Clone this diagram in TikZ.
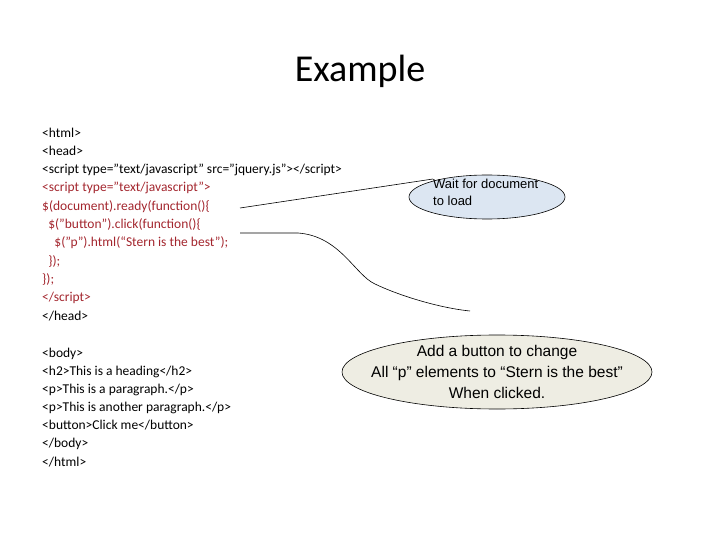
\documentclass[tikz,border=0pt]{standalone}
\usepackage{fontspec}
\setmainfont{Carlito}
\newfontfamily\arialf{Liberation Sans}
\usetikzlibrary{shapes.geometric}
\definecolor{codered}{HTML}{A3262E}
\definecolor{bluefill}{HTML}{DCE6F2}
\definecolor{creamfill}{HTML}{EEEDE3}
\tikzset{code/.style={anchor=base west,inner sep=0pt,font=\fontsize{13.5}{16}\selectfont},
 red/.style={code,text=codered},
 callout/.style={ellipse,draw=black,line width=0.6pt,inner sep=0pt}}
\begin{document}
\begin{tikzpicture}[x=1pt,y=-1pt]
\useasboundingbox (0,0) rectangle (720,540);
\node[font=\fontsize{38}{40}\selectfont] (title) at (360,71) {Example};
\node[code] (l1) at (42,138) {<html>};
\node[code] (l2) at (42,156) {<head>};
\node[code] (l3) at (42,174) {<script type="text/javascript" src="jquery.js"></script>};
\node[red] (l4) at (42,192) {<script type="text/javascript">};
\node[red] (l5) at (42,211) {\$(document).ready(function()\{};
\node[red] (l6) at (42,229) {\ \ \$("button").click(function()\{};
\node[red] (l7) at (42,247) {\ \ \ \ \$("p").html(“Stern is the best");};
\node[red] (l8) at (42,265) {\ \ \});};
\node[red] (l9) at (42,283) {\});};
\node[red] (l10) at (42,301) {</script>};
\node[code] (l11) at (42,320) {</head>};
\node[code] (b1) at (42,357) {<body>};
\node[code] (b2) at (42,375) {<h2>This is a heading</h2>};
\node[code] (b3) at (42,393) {<p>This is a paragraph.</p>};
\node[code] (b4) at (42,411) {<p>This is another paragraph.</p>};
\node[code] (b5) at (42,429) {<button>Click me</button>};
\node[code] (b6) at (42,447) {</body>};
\node[code] (b7) at (42,466) {</html>};
\node[callout,fill=bluefill,minimum width=156pt,minimum height=44pt] (e1) at (487,197) {};
\node[callout,fill=creamfill,minimum width=310pt,minimum height=74pt] (e2) at (497,372) {};
\node[font=\arialf\fontsize{13}{17}\selectfont,align=left,anchor=north west,inner sep=0pt] (t1) at (433,179) {Wait for document\\to load};
\node[font=\arialf\fontsize{15.5}{21}\selectfont,align=center] (t2) at (497,372) {Add a button to change\\All “p” elements to “Stern is the best”\\When clicked.};
\coordinate (s1) at (240,208);
\coordinate (s2) at (240,233);
\coordinate (f2) at (470,311);
\draw[line width=0.6pt] (s1) -- (t1.north west);
\draw[line width=0.6pt] (s2) -- (298,233) .. controls (340,236) and (355,275) .. (375,284) .. controls (400,296) and (440,308) .. (f2);
\end{tikzpicture}
\end{document}
